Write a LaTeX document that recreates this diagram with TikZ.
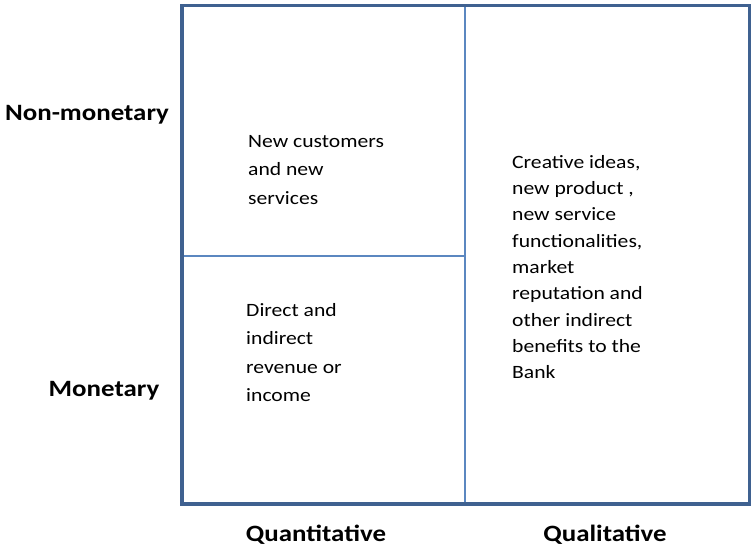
\documentclass[tikz,border=0pt]{standalone}
\usepackage{fontspec}
\setmainfont{Carlito}[FakeStretch=1.15]
\definecolor{frameblue}{HTML}{3F6190}
\definecolor{gridblue}{HTML}{5B87C0}
\tikzset{
  axislabel/.style={font=\fontsize{23.4}{28}\selectfont\bfseries, inner sep=0pt},
  celltext/.style={font=\fontsize{18.8}{28.5}\selectfont, align=left, anchor=north west, inner sep=0pt},
  celltextr/.style={font=\fontsize{18.8}{26.3}\selectfont, align=left, anchor=north west, inner sep=0pt},
}
\begin{document}
\begin{tikzpicture}[x=1pt,y=-1pt]
\useasboundingbox (0,0) rectangle (751,552);
\coordinate (tl) at (182,5.5);
\coordinate (br) at (749.5,504);
\coordinate (vt) at (465,5.5);
\coordinate (vb) at (465,504);
\coordinate (hl) at (182,256);
\coordinate (hr) at (465,256);
\draw[gridblue, line width=1.3pt] (vt) -- (vb);
\draw[gridblue, line width=1.3pt] (hl) -- (hr);
\draw[frameblue, line width=3.5pt] (tl) rectangle (br);
\node[celltext] (c1) at (248,135) {New customers\\and new\\services};
\node[celltext] (c2) at (246,303) {Direct and\\indirect\\revenue or\\income};
\node[celltextr] (c3) at (512,155) {Creative ideas,\\new product ,\\new service\\functionalities,\\market\\reputation and\\other indirect\\benefits to the\\Bank};
\node[axislabel] (nm) at (87,115) {Non-monetary};
\node[axislabel] (mo) at (104,391) {Monetary};
\node[axislabel] (qn) at (316,535) {Quantitative};
\node[axislabel] (ql) at (605,535) {Qualitative};
\end{tikzpicture}
\end{document}
